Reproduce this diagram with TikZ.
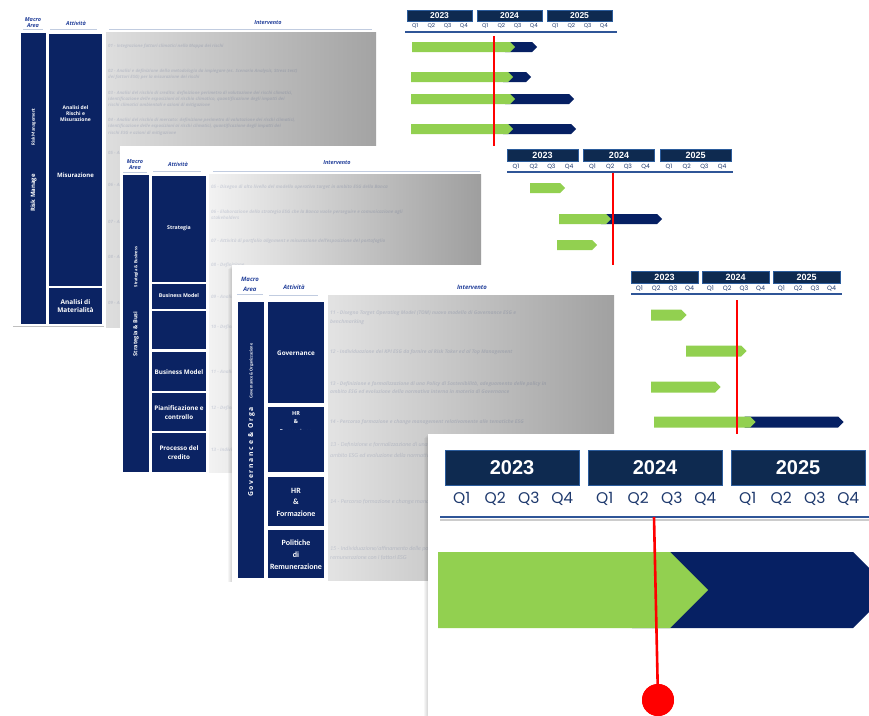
\documentclass[tikz,border=0pt]{standalone}
\usepackage{fontspec}
\setmainfont{Open Sans}
\newfontfamily\yearfont{Liberation Sans}
\newfontfamily\quarterfont{Poppins}
\newfontfamily\narrowfont{Carlito}
\newfontfamily\spacedfont{Open Sans}[LetterSpace=25]

\definecolor{cellnavy}{HTML}{0B2363}
\definecolor{yearnavy}{HTML}{0E2A50}
\definecolor{yearedge}{HTML}{2B5C9C}
\definecolor{barnavy}{HTML}{062063}
\definecolor{bargreen}{HTML}{92D050}
\definecolor{qblue}{HTML}{1F3A6E}
\definecolor{ruleblue}{HTML}{2F5597}
\definecolor{headblue}{HTML}{23409A}

\tikzset{
  cell/.style={fill=cellnavy},
  celltext/.style={text=white, align=center, inner sep=0pt},
  headtext/.style={text=headblue, align=center, inner sep=0pt, font=\bfseries\itshape\fontsize{5.5}{6.5}\selectfont},
  headline/.style={draw=ruleblue!30, line width=0.9pt},
  yearbox/.style={fill=yearnavy, draw=yearedge, line width=0.6pt, text=white, inner sep=0pt},
  quarter/.style={text=qblue, inner sep=0pt},
  ganttrule/.style={draw=ruleblue, line width=1.2pt},
  greenbar/.style={fill=bargreen},
  navybar/.style={fill=barnavy},
  todayline/.style={draw=red, line width=1.1pt},
  faint/.style={text=cellnavy, text opacity=0.13, anchor=west, inner sep=0pt, font=\bfseries\itshape\fontsize{4.4}{5}\selectfont},
  faintlight/.style={text=cellnavy, text opacity=0.15, anchor=west, inner sep=0pt, font=\narrowfont\itshape\fontsize{6}{7}\selectfont},
  slide/.style={fill=white},
}

% y, half height, start, green end, [navy end]
\NewDocumentCommand{\ganttbar}{mmmmo}{%
\IfValueT{#5}{\fill[navybar] ({#4-#2},{#1-#2}) -- (#5,{#1-#2}) -- ({#5+#2},#1) -- (#5,{#1+#2}) -- ({#4-#2},{#1+#2}) -- cycle;}%
\fill[greenbar] (#3,{#1-#2}) -- (#4,{#1-#2}) -- ({#4+#2},#1) -- (#4,{#1+#2}) -- (#3,{#1+#2}) -- cycle;%
}

% name, x, y top, box width, box height, pitch, year font, quarter font, quarter y
\NewDocumentCommand{\yearhead}{mmmmmmmmm}{%
\foreach \yr [count=\i from 0] in {2023,2024,2025} {%
  \node[yearbox, minimum width=#4pt, minimum height=#5pt, font=#7] (#1y\yr) at ({#2+\i*#6+#4/2},{#3+#5/2}) {\yr};
  \foreach \q in {1,...,4}
    \node[quarter, font=#8] (#1q\yr\q) at ({#2+\i*#6+(\q-0.5)*#4/4},#9) {Q\q};
}%
}

% left shadow of a slide
\NewDocumentCommand{\slideshadow}{mmmm}{%
\foreach \s in {1,...,4} {\fill[black, opacity=0.035] ({#1-\s},{#2+\s}) rectangle (#3,#4);}%
}

\begin{document}
\begin{tikzpicture}[x=1pt,y=-1pt]
    \useasboundingbox (0,0) rectangle (869,715);
    \clip (0,0) rectangle (869,715);
    \fill[white] (0,0) rectangle (869,715);

    % slide 1: risk management
    \node[headtext] (p1macro) at (33,22.5) {Macro\\Area};
    \node[headtext] (p1attivita) at (76,23) {Attività};
    \node[headtext] (p1intervento) at (268,23) {Intervento};
    \draw[headline] (23,29) -- (43,29);
    \draw[headline] (50,29) -- (97,29);
    \draw[headline] (109,29) -- (372,29);
    \fill[cell] (21,33) rectangle (46,324);
    \node[celltext, rotate=90, font=\narrowfont\bfseries\fontsize{5}{5}\selectfont] (p1risksmall) at (33.5,127) {Risk Management};
    \node[celltext, rotate=90, font=\bfseries\fontsize{6}{6}\selectfont] (p1riskbig) at (33.5,193) {Risk Manage};
    \fill[cell] (49,34) rectangle (102,286);
    \fill[cell] (49,288) rectangle (102,324);
    \node[celltext, font=\bfseries\fontsize{5}{6}\selectfont] (p1analisi) at (75.5,114) {Analisi del\\Rischi e\\Misurazione};
    \node[celltext, font=\bfseries\fontsize{6}{7}\selectfont] (p1misura) at (75.5,175) {Misurazione};
    \node[celltext, font=\bfseries\fontsize{6.5}{8.5}\selectfont] (p1materia) at (75.5,306) {Analisi di\\Materialità};
    \shade[left color=black!13, right color=black!36] (106,32) rectangle (376,327);
    \draw[black!25] (13,326) -- (104,326);
    \begin{scope}
        \clip (106,32) rectangle (376,327);
        \node[faint] (p1t01) at (108,46) {01 - Integrazione fattori climatici nella Mappa dei rischi};
        \node[faint] (p1t02) at (108,71) {02 - Analisi e definizione della metodologia da impiegare (es. Scenario Analysis, Stress test)};
        \node[faint] (p1t02b) at (108,77) {dei fattori ESG) per la misurazione dei rischi};
        \node[faint] (p1t03) at (108,93) {03 - Analisi del rischio di credito: definizione perimetro di valutazione dei rischi climatici,};
        \node[faint] (p1t03b) at (108,99) {identificazione delle esposizioni al rischio climatico, quantificazione degli impatti dei};
        \node[faint] (p1t03c) at (108,105) {rischi climatici ambientali e azioni di mitigazione};
        \node[faint] (p1t04) at (108,120) {04 - Analisi del rischio di mercato: definizione perimetro di valutazione dei rischi climatici,};
        \node[faint] (p1t04b) at (108,126) {identificazione delle esposizioni ai rischi climatici, quantificazione degli impatti dei};
        \node[faint] (p1t04c) at (108,133) {rischi ESG e azioni di mitigazione};
        \node[faint] (p1t05) at (108,153) {05 - Analisi};
        \node[faint] (p1t06) at (108,185) {06 - Analisi};
        \node[faint] (p1t07) at (108,222) {07 - Analisi};
        \node[faint] (p1t08) at (108,257) {08 - Analisi};
        \node[faint] (p1t09) at (108,303) {09 - Analisi};
    \end{scope}

    % slide 1: timeline
    \yearhead{g1}{407}{10}{65}{11}{70}{\yearfont\bfseries\fontsize{8.5}{9}\selectfont}{\quarterfont\fontsize{5.5}{6}\selectfont}{25.5}
    \draw[ganttrule] (405,32) -- (617,32);
    \ganttbar{47}{5}{412}{510}[532]
    \ganttbar{77}{5}{411}{508}[526]
    \ganttbar{99}{5}{411}{510}[569]
    \ganttbar{129}{5}{411}{508}[571]
    \draw[todayline] (494,36) -- (494,146);

    % slide 2: strategia & business
    \fill[slide] (120,146) rectangle (745,474);
    \node[headtext] (p2macro) at (135,164.5) {Macro\\Area};
    \node[headtext] (p2attivita) at (178,164) {Attività};
    \node[headtext] (p2intervento) at (337,163) {Intervento};
    \draw[headline] (123,172) -- (147,172);
    \draw[headline] (153,171) -- (201,171);
    \draw[headline] (213,171) -- (480,171);
    \fill[cell] (123,175) rectangle (149,472);
    \node[celltext, rotate=90, font=\narrowfont\bfseries\fontsize{4.8}{5}\selectfont] (p2stratsmall) at (136,267) {Strategia \& Business};
    \node[celltext, rotate=90, font=\bfseries\fontsize{5.6}{6}\selectfont] (p2stratbig) at (136,334) {Strategia \& Busi};
    \fill[cell] (152,176) rectangle (206,282);
    \fill[cell] (152,284) rectangle (206,309);
    \fill[cell] (152,311) rectangle (206,349);
    \fill[cell] (152,352) rectangle (206,391);
    \fill[cell] (152,393) rectangle (206,431);
    \fill[cell] (152,433) rectangle (206,472);
    \node[celltext, font=\bfseries\fontsize{5.2}{6}\selectfont] (p2strategia) at (179,228) {Strategia};
    \node[celltext, font=\bfseries\fontsize{5.2}{6}\selectfont] (p2bmsmall) at (179,296) {Business Model};
    \node[celltext, font=\bfseries\fontsize{6.3}{7}\selectfont] (p2bm) at (179,372) {Business Model};
    \node[celltext, font=\bfseries\fontsize{6.3}{9}\selectfont] (p2pianif) at (179,412.5) {Pianificazione e\\controllo};
    \node[celltext, font=\bfseries\fontsize{6.3}{9}\selectfont] (p2credito) at (179,452.5) {Processo del\\credito};
    \shade[left color=black!5, right color=black!38] (209,174) rectangle (481,472);
    \begin{scope}
        \clip (209,174) rectangle (481,472);
        \node[faint, font=\bfseries\itshape\fontsize{4.6}{5}\selectfont] (p2t05) at (211,187) {05 - Disegno di alto livello del modello operativo target in ambito ESG della Banca};
        \node[faint, font=\bfseries\itshape\fontsize{4.6}{5}\selectfont] (p2t06) at (211,212) {06 - Elaborazione della strategia ESG che la Banca vuole perseguire e comunicazione agli};
        \node[faint, font=\bfseries\itshape\fontsize{4.6}{5}\selectfont] (p2t06b) at (211,218) {stakeholders};
        \node[faint, font=\bfseries\itshape\fontsize{4.6}{5}\selectfont] (p2t07) at (211,241) {07 - Attività di portfolio alignment e misurazione dell'esposizione del portafoglio};
        \node[faint, font=\bfseries\itshape\fontsize{4.6}{5}\selectfont] (p2t08) at (211,265) {08 - Definizione};
        \node[faint, font=\bfseries\itshape\fontsize{4.6}{5}\selectfont] (p2t09) at (211,297) {09 - Analisi};
        \node[faint, font=\bfseries\itshape\fontsize{4.6}{5}\selectfont] (p2t10) at (211,327) {10 - Definizione};
        \node[faint, font=\bfseries\itshape\fontsize{4.6}{5}\selectfont] (p2t11) at (211,372) {11 - Analisi};
        \node[faint, font=\bfseries\itshape\fontsize{4.6}{5}\selectfont] (p2t12) at (211,408) {12 - Definizione};
        \node[faint, font=\bfseries\itshape\fontsize{4.6}{5}\selectfont] (p2t13) at (211,450) {13 - Individuazione};
    \end{scope}

    % slide 2: timeline
    \yearhead{g2}{507}{149}{71}{12}{76.5}{\yearfont\bfseries\fontsize{9}{9}\selectfont}{\quarterfont\fontsize{6}{6}\selectfont}{166.5}
    \draw[ganttrule] (507,172) -- (733,172);
    \ganttbar{188}{5}{530}{560}
    \ganttbar{219}{5}{559}{606}[657]
    \ganttbar{245}{5}{557}{592}
    \ganttbar{270}{5}{568}{602}
    \draw[todayline] (613,173) -- (613,266);

    % slide 3: governance & organizzazione
    \slideshadow{232}{265}{860}{582}
    \fill[slide] (232,265) rectangle (860,582);
    \node[headtext, font=\bfseries\itshape\fontsize{6}{10.5}\selectfont] (p3macro) at (250,284.5) {Macro\\Area};
    \node[headtext, font=\bfseries\itshape\fontsize{6}{7}\selectfont] (p3attivita) at (294,287) {Attività};
    \node[headtext, font=\bfseries\itshape\fontsize{6}{7}\selectfont] (p3intervento) at (472,287) {Intervento};
    \draw[headline] (237,294) -- (263,294);
    \draw[headline] (269,295) -- (318,295);
    \draw[headline] (330,295) -- (610,295);
    \fill[cell] (238,302) rectangle (264,578);
    \node[celltext, rotate=90, font=\narrowfont\bfseries\fontsize{4.4}{5}\selectfont] (p3govsmall) at (251.5,371) {Governance \& Organizzazione};
    \node[celltext, rotate=90, font=\spacedfont\bfseries\fontsize{6.8}{7}\selectfont] (p3govbig) at (251.5,452) {Governance \& Orga};
    \fill[cell] (268,302) rectangle (324,403);
    \fill[cell] (268,407) rectangle (324,472);
    \fill[cell] (268,477) rectangle (324,526);
    \fill[cell] (268,530) rectangle (324,578);
    \node[celltext, font=\bfseries\fontsize{6.3}{7}\selectfont] (p3governance) at (296,353) {Governance};
    \node[celltext, font=\bfseries\fontsize{5.5}{8}\selectfont] (p3hrcut) at (296,418) {HR\\\&};
    \begin{scope}
        \clip (268,407) rectangle (324,429);
        \node[celltext, font=\bfseries\fontsize{5.5}{6}\selectfont] (p3formcut) at (296,431) {Formazione};
    \end{scope}
    \node[celltext, font=\narrowfont\bfseries\fontsize{8}{11.5}\selectfont] (p3hr) at (296,502) {HR\\\&\\Formazione};
    \node[celltext, font=\narrowfont\bfseries\fontsize{8}{12}\selectfont] (p3remun) at (296,555) {Politiche\\di\\Remunerazione};
    \shade[left color=black!11, right color=black!37] (328,295) rectangle (614,580);
    \begin{scope}
        \clip (328,295) rectangle (614,580);
        \node[faint, font=\bfseries\itshape\fontsize{5}{6}\selectfont] (p3t11) at (330,313) {11 - Disegno Target Operating Model (TOM) nuovo modello di Governance ESG e};
        \node[faint, font=\bfseries\itshape\fontsize{5}{6}\selectfont] (p3t11b) at (330,322) {benchmarking};
        \node[faint, font=\bfseries\itshape\fontsize{5}{6}\selectfont] (p3t12) at (330,352) {12 - Individuazione dei KPI ESG da fornire al Risk Taker ed al Top Management};
        \node[faint, font=\bfseries\itshape\fontsize{5}{6}\selectfont] (p3t13) at (330,384) {13 - Definizione e formalizzazione di una Policy di Sostenibilità, adeguamento delle policy in};
        \node[faint, font=\bfseries\itshape\fontsize{5}{6}\selectfont] (p3t13b) at (330,392) {ambito ESG ed evoluzione della normativa interna in materia di Governance};
        \node[faint, font=\bfseries\itshape\fontsize{5}{6}\selectfont] (p3t14) at (330,422) {14 - Percorso formazione e change management relativamente alle tematiche ESG};
        \node[faintlight] (p3t13l) at (330,445) {13 - Definizione e formalizzazione di una Policy};
        \node[faintlight] (p3t13lb) at (330,455) {ambito ESG ed evoluzione della normativa};
        \node[faintlight] (p3t14l) at (330,502) {14 - Percorso formazione e change management};
        \node[faintlight] (p3t15l) at (330,549) {15 - Individuazione/affinamento delle politiche di};
        \node[faintlight] (p3t15lb) at (330,558) {remunerazione con i fattori ESG};
    \end{scope}

    % slide 3: timeline
    \yearhead{g3}{631}{271}{67}{12}{71}{\yearfont\bfseries\fontsize{9}{9}\selectfont}{\quarterfont\fontsize{6.3}{6.3}\selectfont}{289}
    \draw[ganttrule] (631,294) -- (842,294);
    \ganttbar{315}{5.5}{651}{681}
    \ganttbar{351}{5.5}{686}{741}
    \ganttbar{387}{5.5}{651}{715}
    \ganttbar{422}{5.5}{654}{750}[838]
    \draw[todayline] (737,300) -- (737,436);

    % slide 4: zoom on the timeline
    \slideshadow{428}{434}{880}{720}
    \fill[slide] (428,434) rectangle (880,720);
    \yearhead{g4}{445}{450}{134}{35}{143}{\yearfont\bfseries\fontsize{20}{20}\selectfont}{\quarterfont\fontsize{15.5}{16}\selectfont}{499}
    \draw[black!20, line width=2pt] (440,520) -- (875,520);
    \draw[ganttrule, line width=2.6pt] (440,517) -- (875,517);
    \ganttbar{590}{38}{438}{670}[853]
    \coordinate (today) at (654,517);
    \node[circle, fill=red, minimum size=32pt, inner sep=0pt] (todaydot) at (658,700) {};
    \draw[todayline, line width=2.6pt] (today) -- (todaydot.center);
    \fill[red] (todaydot.center) circle[radius=16pt];
\end{tikzpicture}
\end{document}
